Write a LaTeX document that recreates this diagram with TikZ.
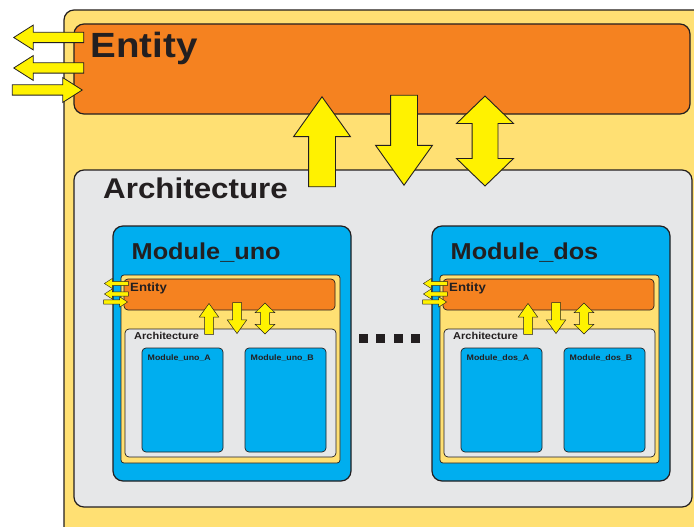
\documentclass[tikz,border=0pt]{standalone}
\usepackage{fontspec}
\newfontfamily\diagfont[FakeStretch=1.1]{Liberation Sans}
\usetikzlibrary{shapes.arrows}
\definecolor{inkline}{RGB}{35, 31, 32}
\definecolor{vhdlyellow}{RGB}{255, 224, 115}
\definecolor{vhdlorange}{RGB}{245, 130, 32}
\definecolor{vhdlgrey}{RGB}{230, 231, 232}
\definecolor{vhdlblue}{RGB}{0, 174, 239}
\definecolor{portyellow}{RGB}{255, 242, 0}

\begin{document}
\begin{tikzpicture}[x=1pt, y=-1pt,
  bigbox/.style={draw=inkline, line width=1.2pt, rounded corners=10pt, inner sep=0pt},
  smallbox/.style={draw=inkline, line width=0.7pt, rounded corners=#1, inner sep=0pt},
  smallbox/.default=4pt,
  title/.style={font=\diagfont\bfseries\fontsize{#1}{#1}\selectfont, text=inkline, anchor=base west, inner sep=0pt},
  port/.style={draw=inkline, fill=portyellow, inner sep=0pt, minimum width=0pt},
  bigv/.style={port, single arrow, line width=0.9pt, inner ysep=13pt, minimum height=90pt, single arrow head extend=15pt, single arrow tip angle=71, anchor=tip},
  bigdv/.style={port, double arrow, line width=0.9pt, inner ysep=12.5pt, minimum height=90pt, double arrow head extend=15.5pt, double arrow tip angle=92, rotate=90},
  bigh/.style={port, single arrow, line width=0.8pt, inner ysep=4.75pt, minimum height=70pt, single arrow head extend=7.25pt, single arrow tip angle=65, anchor=tip},
  smallv/.style={port, single arrow, line width=0.5pt, inner ysep=4.25pt, minimum height=31pt, single arrow head extend=5.25pt, single arrow tip angle=71, anchor=tip},
  smalldv/.style={port, double arrow, line width=0.5pt, inner ysep=4.25pt, minimum height=31pt, double arrow head extend=5.25pt, double arrow tip angle=91, rotate=90},
  smallh/.style={port, single arrow, line width=0.4pt, inner ysep=1.9pt, minimum height=24pt, single arrow head extend=3pt, single arrow tip angle=65, anchor=tip},
  dot/.style={fill=inkline, minimum size=9pt, inner sep=0pt}
]
  \clip (0,0) rectangle (694,527);
  % top level entity and architecture
  \node[bigbox, fill=vhdlyellow, minimum width=656, minimum height=550] (top) at (392,285) {};
  \node[bigbox, fill=vhdlorange, minimum width=616, minimum height=90] (entity) at (382,69) {};
  \node[title=35] (entity-label) at (90.5,57.5) {Entity};
  \node[bigh, rotate=180] (in-a) at (13,37.5) {};
  \node[bigh, rotate=180] (in-b) at (13,68) {};
  \node[bigh] (out-a) at (83,90) {};
  \node[bigbox, fill=vhdlgrey, minimum width=618, minimum height=337] (arch) at (383,338.5) {};
  \node[title=28.5] (arch-label) at (103,198) {Architecture};
  \node[bigv, rotate=90] (up) at (322,96) {};
  \node[bigv, rotate=-90] (down) at (404,186) {};
  \node[bigdv] (both) at (485,141) {};

  % Module_uno
  \node[bigbox, fill=vhdlblue, minimum width=238, minimum height=255] (uno) at (232,353.5) {};
  \node[title=23] (uno-label) at (131.5,259) {Module\_uno};
  \node[smallbox=3pt, fill=vhdlyellow, minimum width=219, minimum height=188] (uno-top) at (230.5,369) {};
  \node[smallbox, fill=vhdlorange, minimum width=211, minimum height=31] (uno-entity) at (229.5,294.5) {};
  \node[title=12] (uno-entity-label) at (130,291) {Entity};
  \node[smallh, rotate=180] (uno-in-a) at (104,283.5) {};
  \node[smallh, rotate=180] (uno-in-b) at (104,294) {};
  \node[smallh] (uno-out-a) at (128,302) {};
  \node[smallbox, fill=vhdlgrey, minimum width=211, minimum height=128] (uno-arch) at (230.5,393) {};
  \node[title=10] (uno-arch-label) at (134,339) {Architecture};
  \node[smallv, rotate=90] (uno-up) at (209,303) {};
  \node[smallv, rotate=-90] (uno-down) at (237,334) {};
  \node[smalldv] (uno-both) at (265,318.5) {};
  \node[smallbox, fill=vhdlblue, minimum width=81, minimum height=104] (uno-a) at (182.5,400) {};
  \node[title=8] (uno-a-label) at (147.5,360) {Module\_uno\_A};
  \node[smallbox, fill=vhdlblue, minimum width=81, minimum height=104] (uno-b) at (285.5,400) {};
  \node[title=8] (uno-b-label) at (250.5,360) {Module\_uno\_B};

  % dots between the modules
  \node[dot] (dot-1) at (363.5,338.5) {};
  \node[dot] (dot-2) at (380.5,338.5) {};
  \node[dot] (dot-3) at (398.5,338.5) {};
  \node[dot] (dot-4) at (415.5,338.5) {};

  % Module_dos
  \node[bigbox, fill=vhdlblue, minimum width=238, minimum height=255] (dos) at (551,353.5) {};
  \node[title=23] (dos-label) at (450.5,259) {Module\_dos};
  \node[smallbox=3pt, fill=vhdlyellow, minimum width=219, minimum height=188] (dos-top) at (549.5,369) {};
  \node[smallbox, fill=vhdlorange, minimum width=211, minimum height=31] (dos-entity) at (548.5,294.5) {};
  \node[title=12] (dos-entity-label) at (449,291) {Entity};
  \node[smallh, rotate=180] (dos-in-a) at (423,283.5) {};
  \node[smallh, rotate=180] (dos-in-b) at (423,294) {};
  \node[smallh] (dos-out-a) at (447,302) {};
  \node[smallbox, fill=vhdlgrey, minimum width=211, minimum height=128] (dos-arch) at (549.5,393) {};
  \node[title=10] (dos-arch-label) at (453,339) {Architecture};
  \node[smallv, rotate=90] (dos-up) at (528,303) {};
  \node[smallv, rotate=-90] (dos-down) at (556,334) {};
  \node[smalldv] (dos-both) at (584,318.5) {};
  \node[smallbox, fill=vhdlblue, minimum width=81, minimum height=104] (dos-a) at (501.5,400) {};
  \node[title=8] (dos-a-label) at (466.5,360) {Module\_dos\_A};
  \node[smallbox, fill=vhdlblue, minimum width=81, minimum height=104] (dos-b) at (604.5,400) {};
  \node[title=8] (dos-b-label) at (569.5,360) {Module\_dos\_B};
\end{tikzpicture}
\end{document}
